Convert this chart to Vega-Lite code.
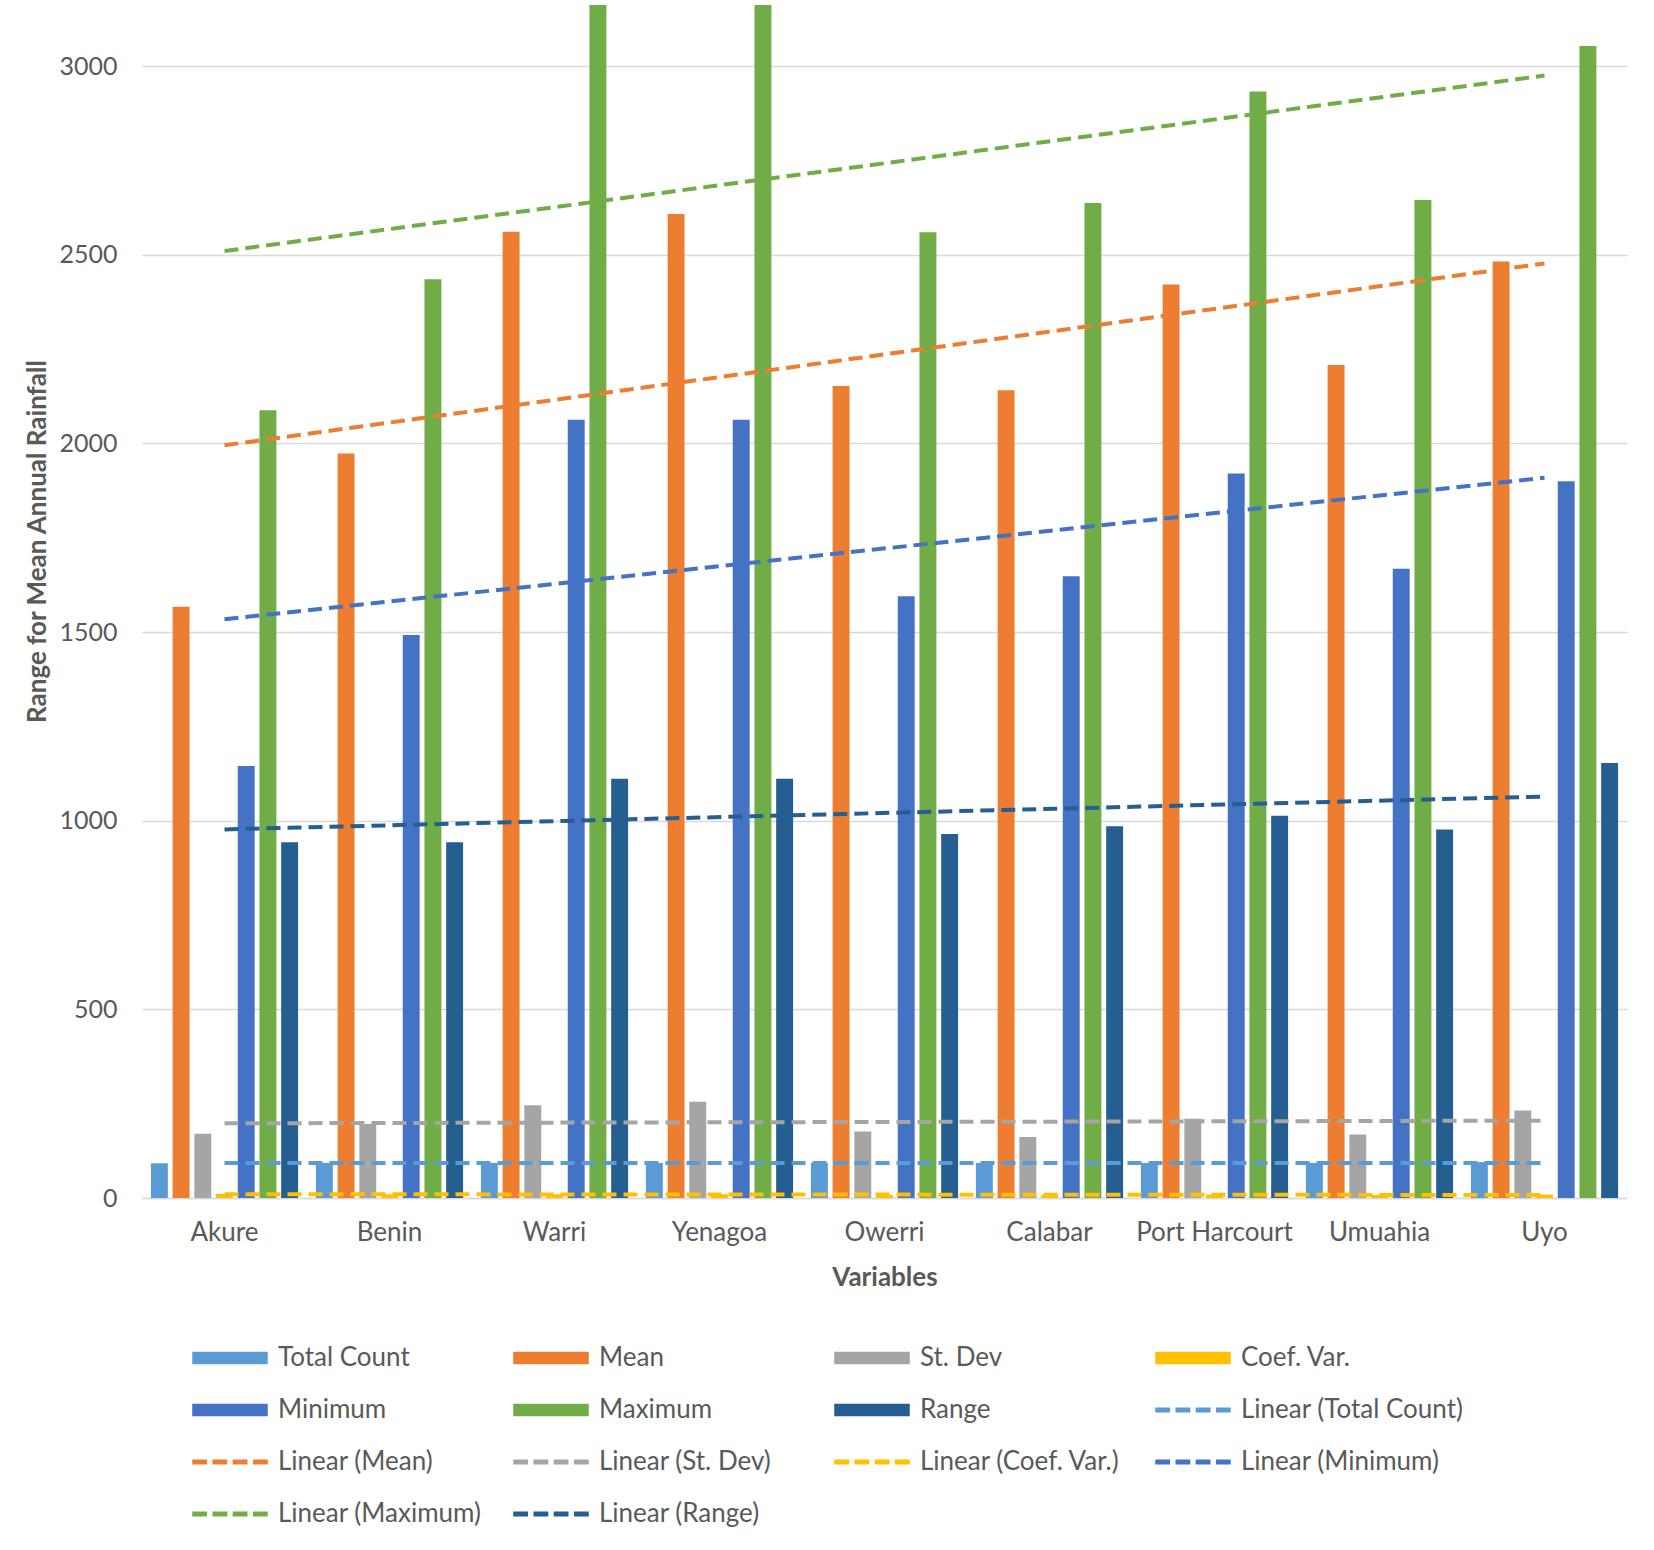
{
  "$schema": "https://vega.github.io/schema/vega-lite/v6.json",
  "autosize": {"type": "none"},
  "padding": {"left": 142, "top": 5, "right": 27, "bottom": 352},
  "width": 1485,
  "height": 1193,
  "config": {
    "font": "Lato",
    "view": {"stroke": null},
    "axis": {"labelColor": "#595959", "titleColor": "#595959", "labelFontSize": 24, "titleFontSize": 26, "titleFontWeight": "bold", "ticks": false}
  },
  "datasets": {
    "bars": [
      {"city": "Akure", "series": "Total Count", "value": 92},
      {"city": "Akure", "series": "Mean", "value": 1567},
      {"city": "Akure", "series": "St. Dev", "value": 170},
      {"city": "Akure", "series": "Coef. Var.", "value": 11},
      {"city": "Akure", "series": "Minimum", "value": 1145},
      {"city": "Akure", "series": "Maximum", "value": 2088},
      {"city": "Akure", "series": "Range", "value": 943},
      {"city": "Benin", "series": "Total Count", "value": 93},
      {"city": "Benin", "series": "Mean", "value": 1973},
      {"city": "Benin", "series": "St. Dev", "value": 196},
      {"city": "Benin", "series": "Coef. Var.", "value": 10},
      {"city": "Benin", "series": "Minimum", "value": 1492},
      {"city": "Benin", "series": "Maximum", "value": 2435},
      {"city": "Benin", "series": "Range", "value": 943},
      {"city": "Warri", "series": "Total Count", "value": 93},
      {"city": "Warri", "series": "Mean", "value": 2561},
      {"city": "Warri", "series": "St. Dev", "value": 246},
      {"city": "Warri", "series": "Coef. Var.", "value": 10},
      {"city": "Warri", "series": "Minimum", "value": 2063},
      {"city": "Warri", "series": "Maximum", "value": 3174},
      {"city": "Warri", "series": "Range", "value": 1111},
      {"city": "Yenagoa", "series": "Total Count", "value": 93},
      {"city": "Yenagoa", "series": "Mean", "value": 2608},
      {"city": "Yenagoa", "series": "St. Dev", "value": 255},
      {"city": "Yenagoa", "series": "Coef. Var.", "value": 10},
      {"city": "Yenagoa", "series": "Minimum", "value": 2063},
      {"city": "Yenagoa", "series": "Maximum", "value": 3174},
      {"city": "Yenagoa", "series": "Range", "value": 1111},
      {"city": "Owerri", "series": "Total Count", "value": 93},
      {"city": "Owerri", "series": "Mean", "value": 2152},
      {"city": "Owerri", "series": "St. Dev", "value": 176},
      {"city": "Owerri", "series": "Coef. Var.", "value": 8},
      {"city": "Owerri", "series": "Minimum", "value": 1595},
      {"city": "Owerri", "series": "Maximum", "value": 2560},
      {"city": "Owerri", "series": "Range", "value": 965},
      {"city": "Calabar", "series": "Total Count", "value": 93},
      {"city": "Calabar", "series": "Mean", "value": 2141},
      {"city": "Calabar", "series": "St. Dev", "value": 162},
      {"city": "Calabar", "series": "Coef. Var.", "value": 8},
      {"city": "Calabar", "series": "Minimum", "value": 1648},
      {"city": "Calabar", "series": "Maximum", "value": 2637},
      {"city": "Calabar", "series": "Range", "value": 985},
      {"city": "Port Harcourt", "series": "Total Count", "value": 93},
      {"city": "Port Harcourt", "series": "Mean", "value": 2421},
      {"city": "Port Harcourt", "series": "St. Dev", "value": 210},
      {"city": "Port Harcourt", "series": "Coef. Var.", "value": 9},
      {"city": "Port Harcourt", "series": "Minimum", "value": 1920},
      {"city": "Port Harcourt", "series": "Maximum", "value": 2933},
      {"city": "Port Harcourt", "series": "Range", "value": 1013},
      {"city": "Umuahia", "series": "Total Count", "value": 93},
      {"city": "Umuahia", "series": "Mean", "value": 2208},
      {"city": "Umuahia", "series": "St. Dev", "value": 168},
      {"city": "Umuahia", "series": "Coef. Var.", "value": 8},
      {"city": "Umuahia", "series": "Minimum", "value": 1668},
      {"city": "Umuahia", "series": "Maximum", "value": 2645},
      {"city": "Umuahia", "series": "Range", "value": 977},
      {"city": "Uyo", "series": "Total Count", "value": 95},
      {"city": "Uyo", "series": "Mean", "value": 2482},
      {"city": "Uyo", "series": "St. Dev", "value": 232},
      {"city": "Uyo", "series": "Coef. Var.", "value": 9},
      {"city": "Uyo", "series": "Minimum", "value": 1900},
      {"city": "Uyo", "series": "Maximum", "value": 3053},
      {"city": "Uyo", "series": "Range", "value": 1153}
    ],
    "trends": [
      {"city": "Akure", "series": "Linear (Total Count)", "value": 93},
      {"city": "Uyo", "series": "Linear (Total Count)", "value": 93},
      {"city": "Akure", "series": "Linear (Mean)", "value": 1995},
      {"city": "Uyo", "series": "Linear (Mean)", "value": 2477},
      {"city": "Akure", "series": "Linear (St. Dev)", "value": 198},
      {"city": "Uyo", "series": "Linear (St. Dev)", "value": 205},
      {"city": "Akure", "series": "Linear (Coef. Var.)", "value": 10},
      {"city": "Uyo", "series": "Linear (Coef. Var.)", "value": 8},
      {"city": "Akure", "series": "Linear (Minimum)", "value": 1534},
      {"city": "Uyo", "series": "Linear (Minimum)", "value": 1909},
      {"city": "Akure", "series": "Linear (Maximum)", "value": 2510},
      {"city": "Uyo", "series": "Linear (Maximum)", "value": 2975},
      {"city": "Akure", "series": "Linear (Range)", "value": 977},
      {"city": "Uyo", "series": "Linear (Range)", "value": 1064}
    ]
  },
  "encoding": {
    "x": {
      "field": "city", "type": "nominal", "title": "Variables",
      "scale": {"domain": ["Akure", "Benin", "Warri", "Yenagoa", "Owerri", "Calabar", "Port Harcourt", "Umuahia", "Uyo"], "paddingInner": 0, "paddingOuter": 0},
      "axis": {"labelAngle": 0, "labelFontSize": 26, "domainColor": "#D9D9D9", "domainWidth": 1.5, "labelPadding": 21, "titlePadding": 19, "grid": false}
    },
    "y": {
      "field": "value", "type": "quantitative", "title": "Range for Mean Annual Rainfall",
      "scale": {"domain": [0, 3162], "nice": false},
      "axis": {"values": [0, 500, 1000, 1500, 2000, 2500, 3000], "format": "d", "labelFontSize": 25, "domain": false, "grid": true, "gridColor": "#D9D9D9", "gridWidth": 1.5, "labelPadding": 25, "titleX": -92, "titleY": 536}
    },
    "color": {
      "field": "series", "type": "nominal",
      "scale": {
        "domain": ["Total Count", "Mean", "St. Dev", "Coef. Var.", "Minimum", "Maximum", "Range", "Linear (Total Count)", "Linear (Mean)", "Linear (St. Dev)", "Linear (Coef. Var.)", "Linear (Minimum)", "Linear (Maximum)", "Linear (Range)"],
        "range": ["#5B9BD5", "#ED7D31", "#A5A5A5", "#FFC000", "#4472C4", "#70AD47", "#255E91", "#5B9BD5", "#ED7D31", "#A5A5A5", "#FFC000", "#4472C4", "#70AD47", "#255E91"]
      },
      "legend": {
        "orient": "none", "legendX": 50, "legendY": 1339, "title": null, "direction": "horizontal",
        "columns": 4, "gridAlign": "all", "columnPadding": 12, "rowPadding": 24,
        "clipHeight": 28, "symbolSize": 5476, "labelOffset": 10,
        "labelFontSize": 26, "labelColor": "#595959", "labelLimit": 400,
        "encode": {
          "symbols": {
            "update": {
              "shape": {"signal": "indexof(datum.value, 'Linear') == 0 ? 'M-1,-0.05H-0.64V0.05H-1Z M-0.453,-0.05H-0.093V0.05H-0.453Z M0.093,-0.05H0.453V0.05H0.093Z M0.64,-0.05H1V0.05H0.64Z' : 'M-1,-0.15H1V0.15H-1Z'"}
            }
          }
        }
      }
    }
  },
  "layer": [
    {
      "data": {"name": "bars"},
      "mark": {"type": "bar", "clip": true},
      "encoding": {
        "xOffset": {
          "field": "series", "type": "nominal",
          "scale": {"domain": ["Total Count", "Mean", "St. Dev", "Coef. Var.", "Minimum", "Maximum", "Range"], "paddingInner": 0.22, "paddingOuter": 0.41}
        }
      }
    },
    {
      "data": {"name": "trends"},
      "mark": {"type": "line", "strokeDash": [14, 7], "strokeWidth": 4, "clip": true},
      "encoding": {}
    }
  ]
}
